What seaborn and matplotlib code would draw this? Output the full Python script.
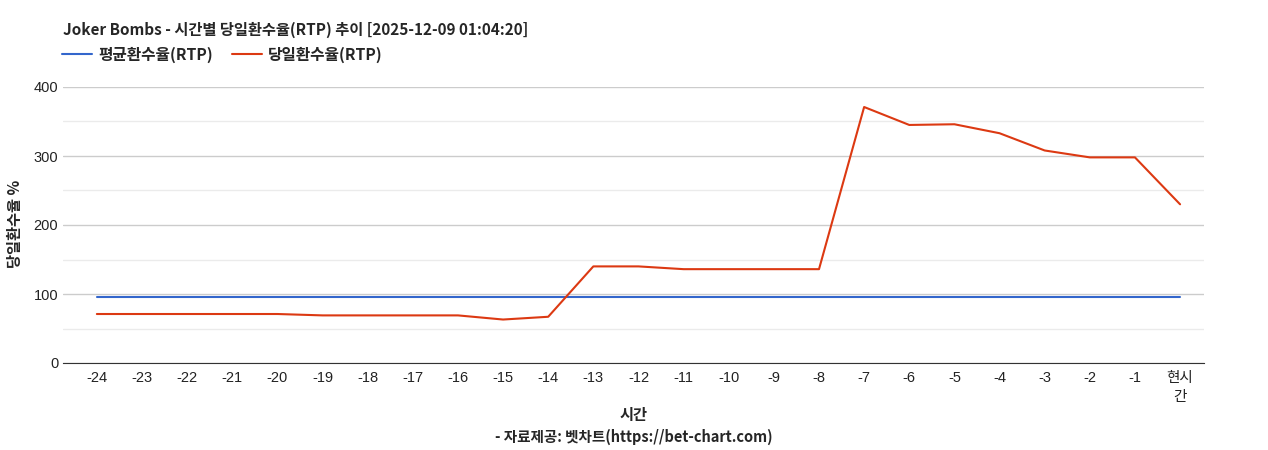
import matplotlib
matplotlib.use("Agg")
import matplotlib.pyplot as plt
import numpy as np
import pandas as pd
import seaborn as sns
from matplotlib.ticker import MultipleLocator

hours = ["-24", "-23", "-22", "-21", "-20", "-19", "-18", "-17", "-16", "-15", "-14", "-13",
         "-12", "-11", "-10", "-9", "-8", "-7", "-6", "-5", "-4", "-3", "-2", "-1", "현시\n간"]
avg_rtp = [96] * 25
day_rtp = [71, 71, 71, 71, 71, 69, 69, 69, 69, 63, 67, 140,
           140, 136, 136, 136, 136, 371, 345, 346, 333, 308, 298, 298, 230]

title = "Joker Bombs - 시간별 당일환수율(RTP) 추이 [2025-12-09 01:04:20]"

df = pd.DataFrame({"pos": np.arange(len(hours)), "avg": avg_rtp, "day": day_rtp})

sns.set_style("white")
plt.rcParams["font.family"] = ["Liberation Sans", "Noto Sans CJK KR", "DejaVu Sans"]
kr = ["Noto Sans CJK KR", "DejaVu Sans"]

fig = plt.figure(figsize=(12.68, 4.5), dpi=100)
ax = fig.add_axes([63 / 1268, 87 / 450, 1141 / 1268, 276 / 450])

sns.lineplot(data=df, x="pos", y="avg", ax=ax, color="#3366cc", linewidth=1.5, label="평균환수율(RTP)")
sns.lineplot(data=df, x="pos", y="day", ax=ax, color="#dc3912", linewidth=1.5, label="당일환수율(RTP)")

ax.set_xlim(-0.75, len(hours) - 1 + 0.53)
ax.set_ylim(0, 400)
ax.yaxis.set_major_locator(MultipleLocator(100))
ax.yaxis.set_minor_locator(MultipleLocator(50))
ax.grid(which="major", axis="y", color="#cccccc", linewidth=1)
ax.grid(which="minor", axis="y", color="#ebebeb", linewidth=1)
ax.set_axisbelow(True)
for s in ["top", "left", "right"]:
    ax.spines[s].set_visible(False)
ax.spines["bottom"].set_color("#333333")
ax.tick_params(axis="both", which="both", length=0, labelsize=10.5, colors="#222222")
ax.tick_params(axis="x", pad=6)
ax.set_xticks(df["pos"])
ax.set_xticklabels(hours, linespacing=1.45)
for lbl in ax.get_xticklabels():
    lbl.set_verticalalignment("top")

ax.set_xlabel("")
ax.set_ylabel("당일환수율 %", family=kr, fontsize=11, fontweight="bold", va="center")
ax.yaxis.set_label_coords((15 - 63) / 1141, (224 - 87) / 276 * -1 + 1)

ax.get_legend().remove()
handles, labels = ax.get_legend_handles_labels()
fig.legend(handles, labels, loc="center left", bbox_to_anchor=(48 / 1268, 1 - 55 / 450), ncol=2,
           frameon=False, handlelength=1.9, handletextpad=0.4, columnspacing=1.2,
           prop={"family": kr, "size": 11.3, "weight": "bold"})

fig.text(63 / 1268, 1 - 30 / 450, title, family=kr, fontsize=11, fontweight="bold", va="center", ha="left")
fig.text((63 + 1204) / 2 / 1268, 1 - 415 / 450, "시간", family=kr, fontsize=11, fontweight="bold",
         ha="center", va="center")
fig.text((63 + 1204) / 2 / 1268, 1 - 437 / 450, "- 자료제공: 벳차트(https://bet-chart.com)", family=kr,
         fontsize=10.5, fontweight="bold", ha="center", va="center")

fig.savefig("out.png", dpi=100)
